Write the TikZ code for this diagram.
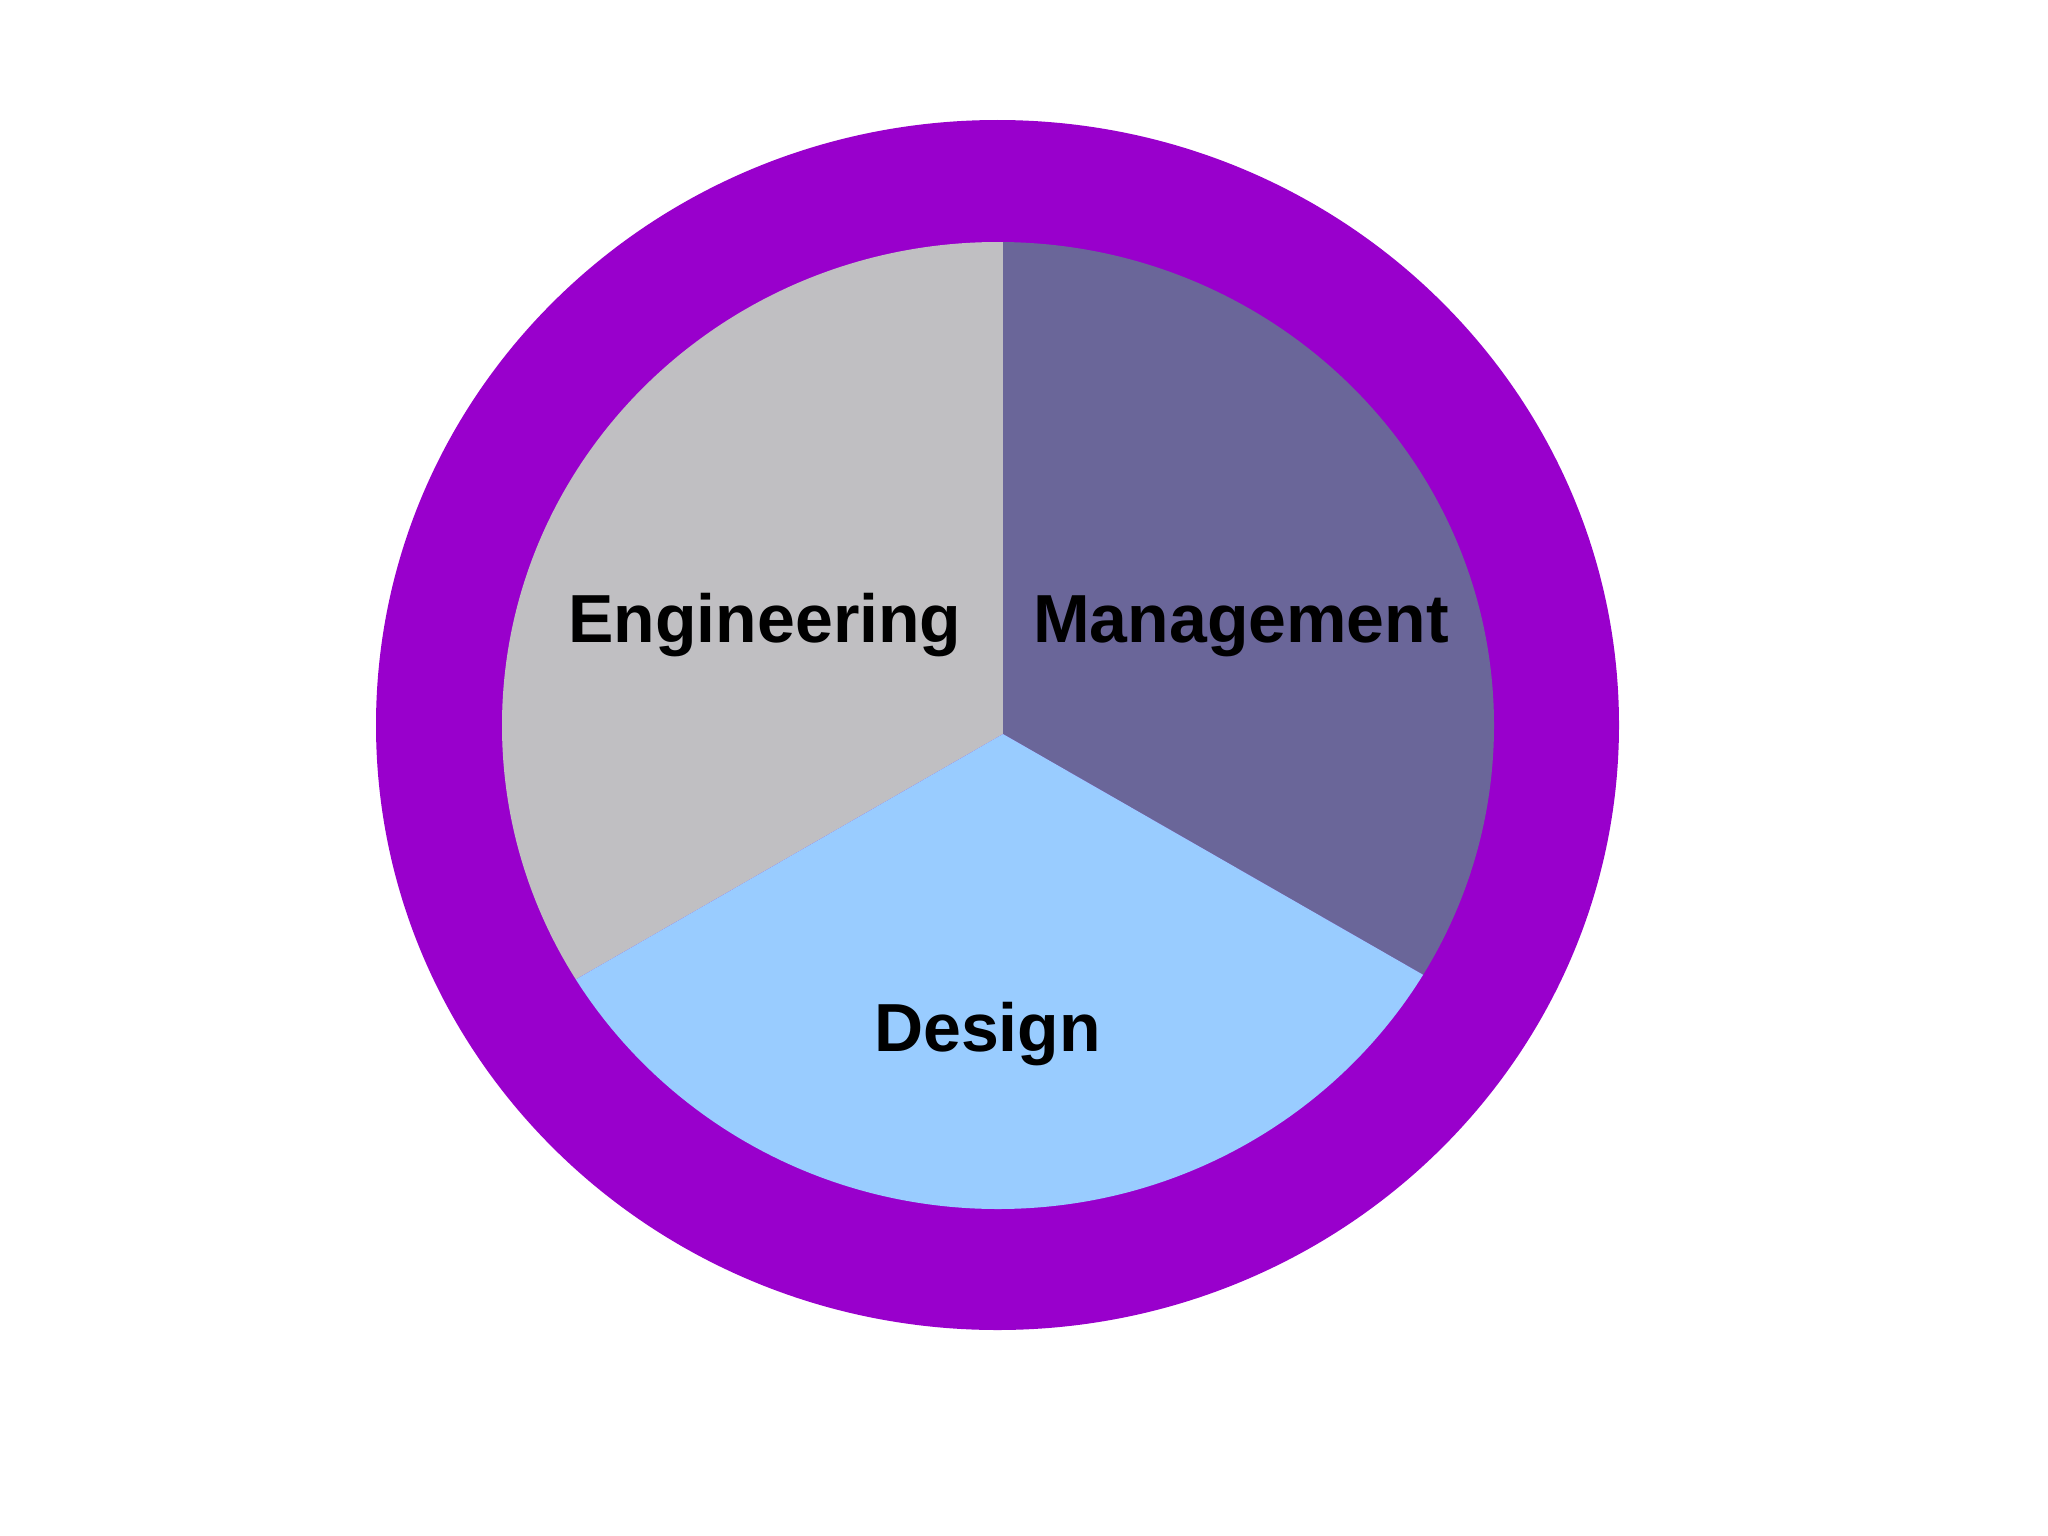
\documentclass[tikz,border=0pt]{standalone}
\usepackage{fontspec}
\setmainfont{Liberation Sans}
\usetikzlibrary{calc}
\definecolor{ringpurple}{HTML}{9900CC}
\definecolor{enggray}{HTML}{C0BFC2}
\definecolor{mgmtblue}{HTML}{6A6699}
\definecolor{designblue}{HTML}{99CCFF}
\begin{document}
\begin{tikzpicture}[x=1pt,y=-1pt,
  label/.style={anchor=base,inner sep=0pt,font=\fontsize{68}{82}\selectfont\bfseries,text=black}]
\useasboundingbox (0,0) rectangle (2048,1536);
\fill[white] (0,0) rectangle (2048,1536);
% outer ring
\fill[ringpurple] (997.5,725) ellipse [x radius=621.5, y radius=605];
% pie sectors clipped to inner ellipse
\coordinate (c) at (1003,734);
\begin{scope}
  \clip (998,725.5) ellipse [x radius=496, y radius=483.5];
  \fill[enggray] (c) -- (1003,100) -- (300,100) -- (300,1146) -- ($(c)!2!(573,981)$) -- cycle;
  \fill[mgmtblue] (c) -- (1003,100) -- (1700,100) -- (1700,1132) -- ($(c)!2!(1427,977)$) -- cycle;
  \fill[designblue] (c) -- ($(c)!2!(573,981)$) -- (300,1400) -- (1700,1400) -- ($(c)!2!(1427,977)$) -- cycle;
\end{scope}
\node[label] (eng) at (765,642) {Engineering};
\node[label] (mgmt) at (1241,642) {Management};
\node[label] (des) at (987.5,1051) {Design};
\end{tikzpicture}
\end{document}
